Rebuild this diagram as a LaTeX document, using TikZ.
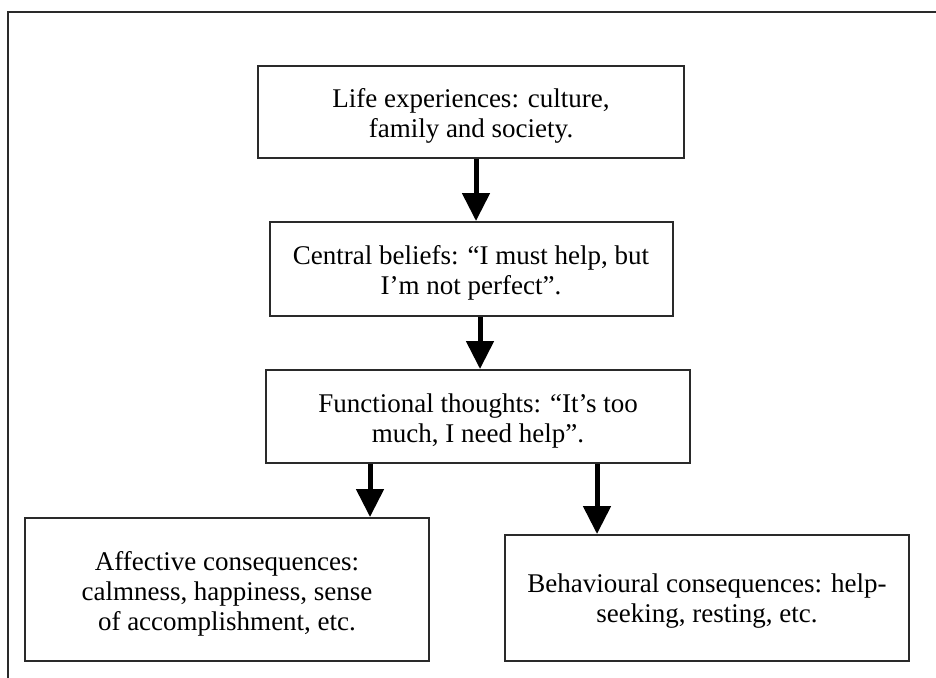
\documentclass[tikz,border=0pt]{standalone}
\usepackage{fontspec}
\setmainfont{Liberation Serif}
\usetikzlibrary{arrows.meta}
\definecolor{ink}{HTML}{2A2A2A}
\newcommand\topstrut{\rule{0pt}{27.5pt}}
\tikzset{
  box/.style={draw=ink, line width=2pt, rectangle, inner sep=0pt, align=center,
    font=\fontsize{27}{30}\selectfont, text=black},
  flow/.style={draw=black, line width=5pt, -{Triangle[width=27pt,length=28pt]}}
}
\begin{document}
\begin{tikzpicture}[x=1pt,y=-1pt]
\useasboundingbox (0,0) rectangle (936,677);
\begin{scope}
\clip (0,0) rectangle (936,677);
\draw[ink, line width=2pt] (8,12) rectangle (960,700);
\end{scope}
\node[box, minimum width=426pt, minimum height=92pt] (life) at (471,112)
  {\topstrut Life experiences: culture,\\family and society.};
\node[box, minimum width=403pt, minimum height=94pt] (central) at (471,269)
  {\topstrut Central beliefs: ``I must help, but\\I'm not perfect''.};
\node[box, minimum width=424pt, minimum height=93pt] (func) at (478,416.5)
  {\topstrut Functional thoughts: ``It's too\\much, I need help''.};
\node[box, minimum width=404pt, minimum height=143pt] (aff) at (227,589.5)
  {\topstrut Affective consequences:\\calmness, happiness, sense\\of accomplishment, etc.};
\node[box, minimum width=404pt, minimum height=126pt] (beh) at (707,598)
  {\rule{0pt}{25pt}Behavioural consequences: help-\\seeking, resting, etc.};
\draw[flow] ([xshift=5pt]life.south) -- ([xshift=5pt]life.south |- central.north);
\draw[flow] ([xshift=9pt]central.south) -- ([xshift=9pt]central.south |- func.north);
\draw[flow] ([xshift=-108pt]func.south) -- ([xshift=-108pt]func.south |- aff.north);
\draw[flow] ([xshift=119pt]func.south) -- ([xshift=119pt]func.south |- beh.north);
\end{tikzpicture}
\end{document}
